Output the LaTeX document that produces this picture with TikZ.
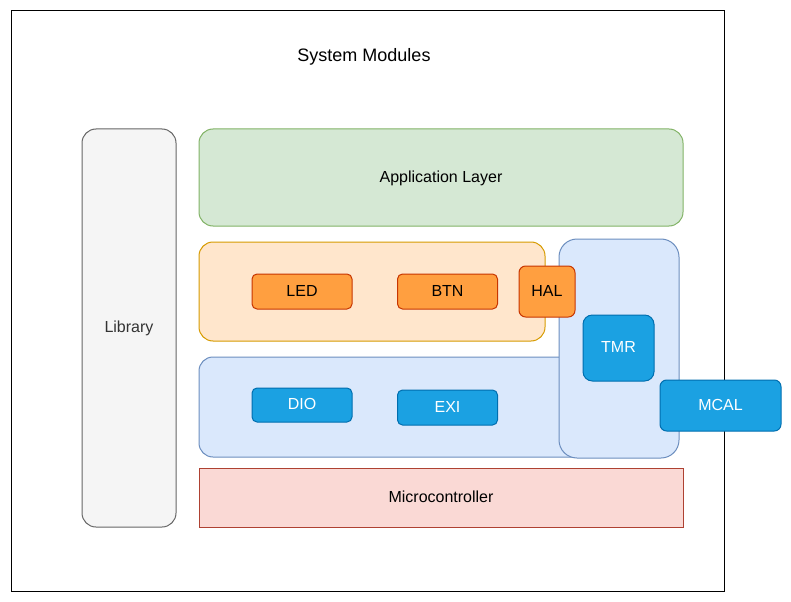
\documentclass[tikz,border=0pt]{standalone}
\usepackage{fontspec}
\setmainfont{Liberation Sans}
\definecolor{grayfill}{HTML}{F5F5F5}
\definecolor{graydraw}{HTML}{666666}
\definecolor{graytext}{HTML}{333333}
\definecolor{greenfill}{HTML}{D5E8D4}
\definecolor{greendraw}{HTML}{82B366}
\definecolor{peachfill}{HTML}{FFE6CC}
\definecolor{peachdraw}{HTML}{D79B00}
\definecolor{bluefill}{HTML}{DAE8FC}
\definecolor{bluedraw}{HTML}{6C8EBF}
\definecolor{redfill}{HTML}{FAD9D5}
\definecolor{reddraw}{HTML}{AE4132}
\definecolor{orangefill}{HTML}{FF9F40}
\definecolor{orangedraw}{HTML}{C73500}
\definecolor{cyanfill}{HTML}{1BA1E2}
\definecolor{cyandraw}{HTML}{006EAF}
\begin{document}
\begin{tikzpicture}[
    x=0.75pt, y=-0.75pt,
    box/.style={inner sep=0pt, outer sep=0pt, line width=0.75pt, font=\fontsize{12}{14}\selectfont, text height=0.8em, text depth=0.1em},
    layer/.style={box, rounded corners=10.5pt},
    orangemod/.style={box, draw=orangedraw, fill=orangefill, rounded corners=3.75pt, minimum width=75pt, minimum height=26.25pt},
    bluemod/.style={box, draw=cyandraw, fill=cyanfill, text=white, rounded corners=3.75pt, minimum width=75pt, minimum height=26.25pt}
]
    \useasboundingbox (0,0) rectangle (791,602);
    \node[box, draw=black, fill=white, minimum width=534.75pt, minimum height=435pt] (frame) at (367.5,301) {};
    \node[font=\fontsize{13.5}{16}\selectfont, inner sep=0pt, text height=0.8em, text depth=0.1em] (title) at (364,57) {System Modules};

    \node[layer, draw=graydraw, fill=grayfill, text=graytext, minimum width=70.5pt, minimum height=298.5pt] (library) at (129,328) {Library};
    \node[layer, draw=greendraw, fill=greenfill, minimum width=363pt, minimum height=72.75pt] (app) at (441,177.5) {Application Layer};
    \node[layer, draw=peachdraw, fill=peachfill, minimum width=259.5pt, minimum height=74.25pt] (halzone) at (372,291.5) {};
    \node[layer, draw=bluedraw, fill=bluefill, minimum width=315.75pt, minimum height=75pt] (mcalzone) at (409.5,407) {};
    \node[box, draw=bluedraw, fill=bluefill, rounded corners=13.5pt, minimum width=90pt, minimum height=164.25pt] (tmrzone) at (619,348.5) {};

    \node[orangemod] (led) at (302,291.5) {LED};
    \node[orangemod] (btn) at (447.5,291.5) {BTN};
    \node[orangemod, rounded corners=5pt, minimum width=42pt, minimum height=38.25pt] (hal) at (547,291.5) {HAL};

    \node[bluemod, rounded corners=7pt, minimum width=53.25pt, minimum height=49.5pt] (tmr) at (618.5,348) {TMR};
    \node[bluemod, minimum height=25.5pt] (dio) at (302,405) {DIO};
    \node[bluemod] (exi) at (447.5,407.5) {EXI};
    \node[bluemod, rounded corners=5pt, minimum width=90.75pt, minimum height=38.25pt] (mcal) at (720.5,405.5) {MCAL};

    \node[box, draw=reddraw, fill=redfill, minimum width=363pt, minimum height=44.25pt] (micro) at (441,497.5) {Microcontroller};
\end{tikzpicture}
\end{document}
